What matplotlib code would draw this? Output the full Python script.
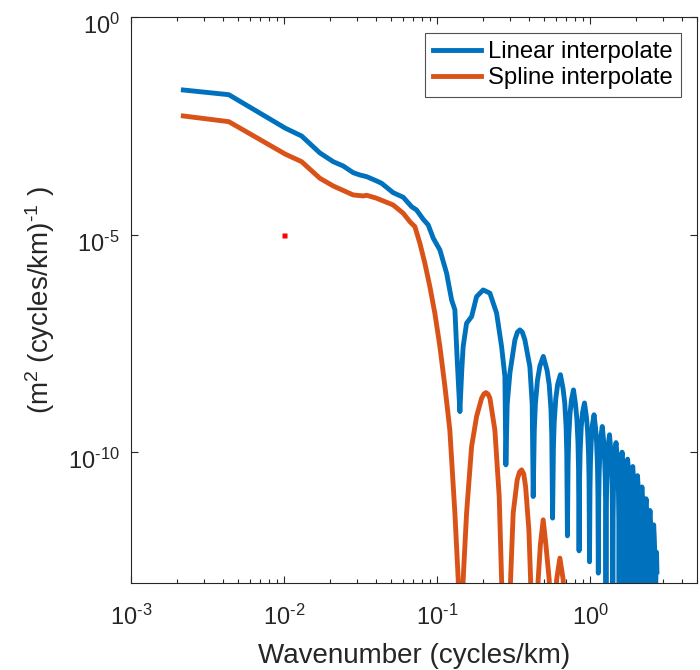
import numpy as np
import matplotlib
matplotlib.use("Agg")
import matplotlib.pyplot as plt
from matplotlib.ticker import LogLocator, NullLocator, FuncFormatter
from matplotlib.transforms import ScaledTranslation

# Spectra: wavenumber in cycles/km, log10 of power in m^2 (cycles/km)^-1
wavenumber_linear = [
    0.00220, 0.00436, 0.01023, 0.01303, 0.01716, 0.02095, 0.02436, 0.0283, 0.0313, 0.0347,
    0.0403, 0.0434, 0.0516, 0.0601, 0.0681, 0.0734, 0.0811, 0.0875, 0.0944, 0.1043,
    0.1154, 0.1244, 0.1307, 0.1353, 0.1409,
    0.1450, 0.148, 0.1558, 0.168, 0.1811, 0.200, 0.2213, 0.2448, 0.2638, 0.2773, 0.2814,
    0.2870, 0.2989, 0.3223, 0.3350, 0.3473, 0.3600, 0.3744, 0.4036, 0.4180, 0.4244,
    0.4314, 0.4384, 0.4524, 0.4694, 0.494, 0.523, 0.540, 0.554, 0.561, 0.568,
    0.575, 0.582, 0.596, 0.613, 0.639, 0.665, 0.682, 0.696, 0.703, 0.710,
    0.717, 0.724, 0.738, 0.755, 0.778, 0.801, 0.818, 0.832, 0.839, 0.846,
    0.853, 0.860, 0.874, 0.891, 0.918, 0.945, 0.962, 0.976, 0.983, 0.990,
    0.997, 1.004, 1.018, 1.035, 1.060, 1.085, 1.102, 1.116, 1.123, 1.130,
    1.137, 1.144, 1.158, 1.175, 1.199, 1.223, 1.240, 1.254, 1.261, 1.268,
    1.275, 1.282, 1.296, 1.313, 1.337, 1.361, 1.378, 1.391, 1.398, 1.405,
    1.412, 1.419, 1.433, 1.450, 1.475, 1.500, 1.517, 1.531, 1.538, 1.5455,
    1.5525, 1.5595, 1.5735, 1.591, 1.616, 1.641, 1.658, 1.672, 1.679, 1.686,
    1.693, 1.700, 1.714, 1.731, 1.756, 1.781, 1.798, 1.812, 1.819, 1.8265,
    1.8335, 1.8405, 1.8545, 1.872, 1.897, 1.922, 1.939, 1.953, 1.960, 1.967,
    1.974, 1.981, 1.995, 2.012, 2.037, 2.062, 2.079, 2.093, 2.100, 2.1075,
    2.1145, 2.1215, 2.1355, 2.153, 2.178, 2.203, 2.220, 2.234, 2.241, 2.248,
    2.255, 2.262, 2.276, 2.293, 2.318, 2.343, 2.360, 2.374, 2.381, 2.3885,
    2.3955, 2.4025, 2.4165, 2.434, 2.459, 2.484, 2.501, 2.515, 2.522, 2.529,
    2.536, 2.543, 2.557, 2.574, 2.599, 2.624, 2.641, 2.655, 2.662, 2.6695,
    2.677, 2.684, 2.698, 2.712, 2.730,
]
log_power_linear = [
    -1.677, -1.785, -2.557, -2.734, -3.124, -3.324, -3.423, -3.577, -3.630, -3.669,
    -3.768, -3.821, -4.036, -4.142, -4.358, -4.434, -4.647, -4.778, -5.084, -5.353,
    -5.888, -6.501, -6.731, -7.880, -9.068,
    -8.10, -7.574, -7.037, -6.885, -6.426, -6.272, -6.347, -6.807, -7.574, -8.263, -10.292,
    -8.90, -8.185, -7.420, -7.240, -7.190, -7.240, -7.420, -8.034, -8.90, -11.020,
    -9.50, -8.90, -8.35, -8.02, -7.80, -8.12, -8.45, -9.00, -9.60, -11.516,
    -9.92, -9.32, -8.77, -8.44, -8.22, -8.54, -8.87, -9.42, -10.02, -11.923,
    -10.27, -9.67, -9.12, -8.79, -8.57, -8.89, -9.22, -9.77, -10.37, -12.268,
    -10.57, -9.97, -9.42, -9.09, -8.87, -9.19, -9.52, -10.07, -10.67, -12.52,
    -10.84, -10.24, -9.69, -9.36, -9.14, -9.46, -9.79, -10.34, -10.94, -12.78,
    -11.11, -10.51, -9.96, -9.63, -9.41, -9.73, -10.06, -10.61, -11.21, -14.0,
    -11.30, -10.70, -10.15, -9.82, -9.60, -9.92, -10.25, -10.80, -11.40, -15.0,
    -11.48, -10.88, -10.33, -10.00, -9.78, -10.10, -10.43, -10.98, -11.58, -15.0,
    -11.70, -11.10, -10.55, -10.22, -10.00, -10.32, -10.65, -11.20, -11.80, -15.0,
    -11.86, -11.26, -10.71, -10.38, -10.16, -10.48, -10.81, -11.36, -11.96, -15.0,
    -12.03, -11.43, -10.88, -10.55, -10.33, -10.65, -10.98, -11.53, -12.13, -15.0,
    -12.24, -11.64, -11.09, -10.76, -10.54, -10.86, -11.19, -11.74, -12.34, -15.0,
    -12.50, -11.90, -11.35, -11.02, -10.80, -11.12, -11.45, -12.00, -12.60, -15.0,
    -12.77, -12.17, -11.62, -11.29, -11.07, -11.39, -11.72, -12.27, -12.87, -15.0,
    -13.04, -12.44, -11.89, -11.56, -11.34, -11.66, -11.99, -12.54, -13.14, -15.0,
    -13.37, -12.77, -12.22, -11.89, -11.67, -11.99, -12.32, -12.87, -13.47, -15.0,
    -13.60, -12.95, -12.45, -12.30, -12.75,
]

wavenumber_spline = [
    0.00220, 0.00436, 0.01023, 0.01303, 0.01716, 0.02095, 0.0283, 0.0329, 0.0347, 0.0403,
    0.0516, 0.0601, 0.0664, 0.0716, 0.0772, 0.0832, 0.0897, 0.0967, 0.1043, 0.1125,
    0.1211, 0.1307, 0.1374, 0.1409, 0.148, 0.1558, 0.168, 0.1811, 0.1953, 0.2020,
    0.2084, 0.2150, 0.2213, 0.2384, 0.2545, 0.2638, 0.2814, 0.302, 0.314, 0.3336,
    0.3450, 0.3565, 0.3680, 0.3785, 0.3977, 0.4081, 0.4244, 0.4573, 0.4727, 0.4932,
    0.5137, 0.5398, 0.568, 0.6034, 0.634, 0.6662, 0.710,
]
log_power_spline = [
    -2.274, -2.405, -3.154, -3.324, -3.706, -3.882, -4.089, -4.112, -4.097, -4.165,
    -4.319, -4.510, -4.703, -4.817, -5.199, -5.658, -6.196, -6.807, -7.574, -8.493,
    -9.488, -11.401, -12.93, -16.0, -12.93, -11.401, -9.871, -9.182, -8.760, -8.665,
    -8.631, -8.665, -8.760, -9.488, -11.020, -12.93, -16.0, -12.93, -11.401, -10.636,
    -10.46, -10.407, -10.50, -10.790, -11.785, -12.93, -16.0, -12.93, -12.13, -11.555,
    -12.13, -12.93, -16.0, -12.93, -12.435, -12.93, -16.0,
]

marker_k = [1e-2]
marker_p = [1e-5]

plt.rcParams['font.family'] = ['Liberation Sans', 'DejaVu Sans']
plt.rcParams['mathtext.fontset'] = 'custom'
plt.rcParams['mathtext.rm'] = 'Liberation Sans'
plt.rcParams['mathtext.it'] = 'Liberation Sans:italic'
plt.rcParams['mathtext.default'] = 'regular'


def pow10_label(v, pos):
    # MATLAB style: short hyphen in the exponent
    e = int(round(np.log10(v)))
    if e < 0:
        return r'$10^{\text{-}%d}$' % (-e)
    return r'$10^{%d}$' % e


axis_grey = '#262626'
fig = plt.figure(figsize=(7, 6.7), dpi=100)
ax = fig.add_axes([0.187, 0.1303, 0.809, 0.8443])

ax.plot(wavenumber_linear, 10.0 ** np.array(log_power_linear), color='#0072BD', lw=3.5,
        solid_joinstyle='round', label='Linear interpolate')
ax.plot(wavenumber_spline, 10.0 ** np.array(log_power_spline), color='#D95319', lw=3.5,
        solid_joinstyle='round', label='Spline interpolate')
ax.plot(marker_k, marker_p, 's', color='red', ms=3.6, mec='none')

ax.set_xscale('log')
ax.set_yscale('log')
ax.set_xlim(1e-3, 5)
ax.set_ylim(1e-13, 1)

ax.set_yticks([1e-10, 1e-5, 1])
ax.yaxis.set_minor_locator(NullLocator())
ax.xaxis.set_minor_locator(LogLocator(base=10, subs=np.arange(2, 10), numticks=30))
ax.xaxis.set_major_formatter(FuncFormatter(pow10_label))
ax.yaxis.set_major_formatter(FuncFormatter(pow10_label))

ax.tick_params(which='both', direction='in', top=True, right=True,
               colors=axis_grey, labelsize=17)
ax.tick_params(which='major', length=5, width=0.8)
ax.tick_params(which='minor', length=3, width=0.8)
ax.tick_params(axis='x', which='major', pad=16)
ax.tick_params(axis='y', which='major', pad=8)
for s in ax.spines.values():
    s.set_color(axis_grey)
    s.set_linewidth(0.8)

# MATLAB puts the "10" of each y label on the tick, superscript above it
shift = ScaledTranslation(0, -5 / 72, fig.dpi_scale_trans)
for lab in ax.get_yticklabels():
    lab.set_transform(lab.get_transform() + shift)

ax.set_xlabel('Wavenumber (cycles/km)', fontsize=20, color=axis_grey, labelpad=9)
ax.set_ylabel(r'(m$^2$ (cycles/km)$^{\text{-}1}$ )', fontsize=20, color=axis_grey, labelpad=8)

leg = ax.legend(loc='upper right', fontsize=17.2, frameon=True, fancybox=False,
                handlelength=2.0, handletextpad=0.3, borderpad=0.35,
                labelspacing=0.15, borderaxespad=0.67)
leg.get_frame().set_edgecolor(axis_grey)
leg.get_frame().set_linewidth(0.8)

fig.savefig('out.png', dpi=100)
